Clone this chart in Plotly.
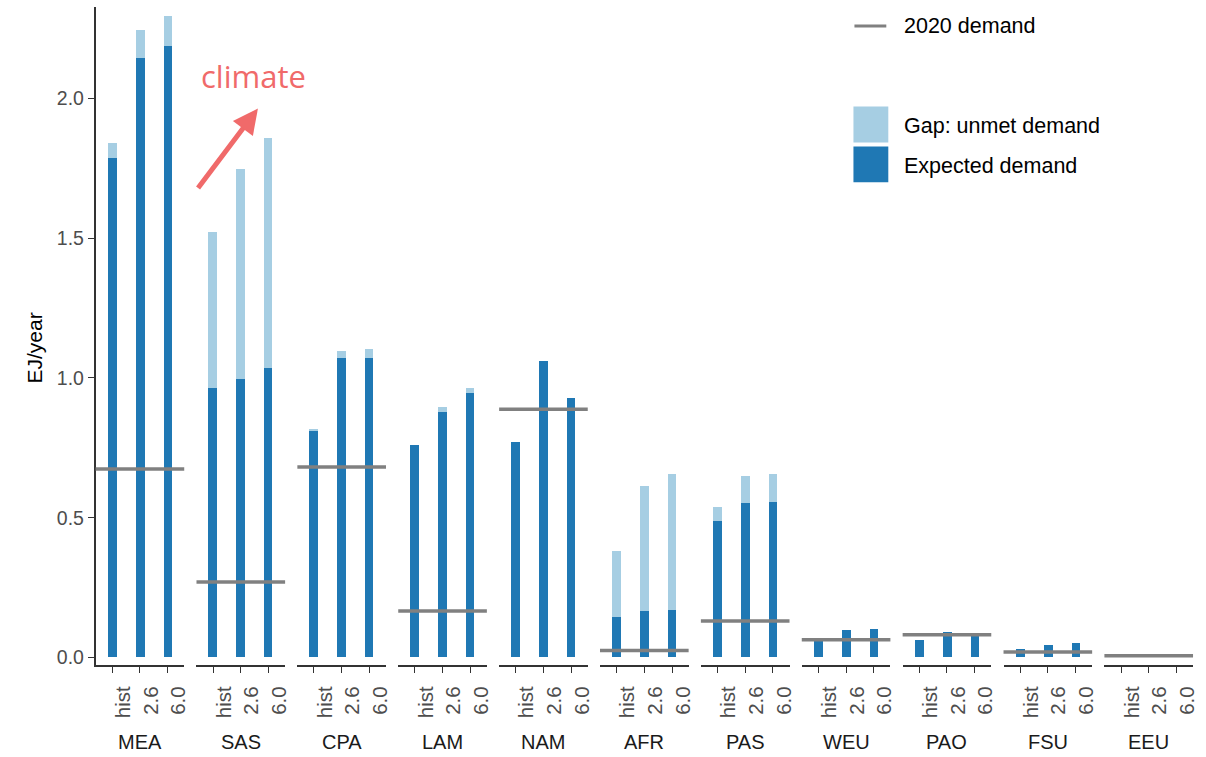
import plotly.graph_objects as go

# Regions (facets) and scenarios (bars within each facet)
regions = ["MEA", "SAS", "CPA", "LAM", "NAM", "AFR", "PAS", "WEU", "PAO", "FSU", "EEU"]
scenarios = ["hist", "2.6", "6.0"]

# Expected demand per region, one value per scenario (EJ/year)
expected = {
    "MEA": [1.786, 2.147, 2.190],
    "SAS": [0.966, 0.998, 1.037],
    "CPA": [0.809, 1.070, 1.070],
    "LAM": [0.759, 0.877, 0.948],
    "NAM": [0.770, 1.062, 0.930],
    "AFR": [0.146, 0.166, 0.171],
    "PAS": [0.490, 0.553, 0.557],
    "WEU": [0.060, 0.099, 0.101],
    "PAO": [0.062, 0.092, 0.076],
    "FSU": [0.031, 0.046, 0.051],
    "EEU": [0.0, 0.0, 0.0],
}

# Unmet demand stacked on top of the expected demand (EJ/year)
gap = {
    "MEA": [0.056, 0.098, 0.106],
    "SAS": [0.557, 0.751, 0.823],
    "CPA": [0.009, 0.028, 0.035],
    "LAM": [0.0, 0.018, 0.018],
    "NAM": [0.0, 0.0, 0.0],
    "AFR": [0.234, 0.446, 0.485],
    "PAS": [0.048, 0.096, 0.099],
    "WEU": [0.0, 0.0, 0.0],
    "PAO": [0.0, 0.0, 0.0],
    "FSU": [0.0, 0.0, 0.0],
    "EEU": [0.0, 0.0, 0.0],
}

# Demand in 2020 per region (EJ/year)
demand_2020 = [0.674, 0.270, 0.681, 0.166, 0.888, 0.025, 0.130, 0.063, 0.081, 0.019, 0.006]

y_ticks = [0.0, 0.5, 1.0, 1.5, 2.0]

W, H = 1206, 757
DARK = "#1F78B4"
LIGHT = "#A6CEE3"
GREY = "#808080"
RED = "#F06A6A"
FONT = "Liberation Sans, Arial, sans-serif"

fig = go.Figure()

panel_w = 89.0
step = 101.3
left0 = 96.0
y_bottom_px, y_top_px = 668.0, 7.0

layout = dict(
    width=W, height=H,
    margin=dict(l=0, r=0, t=0, b=0),
    paper_bgcolor="white", plot_bgcolor="white",
    barmode="stack", bargap=0,
    showlegend=False,
    font=dict(family=FONT, size=20, color="#4D4D4D"),
)

shapes = []
annotations = []

for i, reg in enumerate(regions):
    ax_name = "xaxis" if i == 0 else f"xaxis{i + 1}"
    xref = "x" if i == 0 else f"x{i + 1}"
    x0 = (left0 + i * step) / W
    x1 = (left0 + i * step + panel_w) / W
    layout[ax_name] = dict(
        domain=[x0, x1], anchor="y",
        type="category", categoryorder="array", categoryarray=scenarios,
        range=[-0.6, 2.6],
        showline=True, linecolor="#333333", linewidth=1.5,
        ticks="outside", ticklen=6, tickwidth=1.2, tickcolor="#333333",
        tickangle=-90, ticklabelshift=11, ticklabelstandoff=5,
        tickfont=dict(family=FONT, size=20.5, color="#4D4D4D"),
        showgrid=False, zeroline=False, fixedrange=True,
    )
    fig.add_trace(go.Bar(
        x=scenarios, y=expected[reg], xaxis=xref, yaxis="y",
        width=0.32, marker=dict(color=DARK, line=dict(width=0)),
        name="Expected demand",
    ))
    fig.add_trace(go.Bar(
        x=scenarios, y=gap[reg], xaxis=xref, yaxis="y",
        width=0.32, marker=dict(color=LIGHT, line=dict(width=0)),
        name="Gap: unmet demand",
    ))
    # 2020 demand drawn across the whole facet
    shapes.append(dict(
        type="line", xref=f"{xref} domain", yref="y",
        x0=0, x1=1, y0=demand_2020[i], y1=demand_2020[i],
        line=dict(color=GREY, width=3.5), layer="above",
    ))
    # facet label underneath
    annotations.append(dict(
        x=(x0 + x1) / 2, y=1 - 745 / H, xref="paper", yref="paper",
        text=reg, showarrow=False, xanchor="center", yanchor="middle",
        font=dict(family=FONT, size=20, color="#1A1A1A"),
    ))

layout["yaxis"] = dict(
    domain=[1 - y_bottom_px / H, 1 - y_top_px / H], anchor="x",
    range=[-(y_bottom_px - 660) / 280.5, (660 - y_top_px) / 280.5],
    tickvals=y_ticks, ticktext=[f"{v:.1f}" for v in y_ticks],
    showline=True, linecolor="#333333", linewidth=1.5,
    ticks="outside", ticklen=6, tickwidth=1.2, tickcolor="#333333",
    tickfont=dict(family=FONT, size=19.5, color="#4D4D4D"),
    showgrid=False, zeroline=False, fixedrange=True,
)

# y-axis title
annotations.append(dict(x=35 / W, y=1 - 349 / H, xref="paper", yref="paper",
                        text="EJ/year", textangle=-90, showarrow=False,
                        xanchor="center", yanchor="middle",
                        font=dict(family=FONT, size=21, color="#000000")))

# Key: 2020 demand line
shapes.append(dict(type="line", xref="paper", yref="paper",
                   x0=858 / W, x1=890 / W, y0=1 - 26 / H, y1=1 - 26 / H,
                   line=dict(color=GREY, width=3)))
annotations.append(dict(x=906 / W, y=1 - 26 / H, xref="paper", yref="paper",
                        text="2020 demand", showarrow=False, xanchor="left", yanchor="middle",
                        font=dict(family=FONT, size=21.5, color="#000000")))
# Key: fill colours
for label, color, yc in [("Gap: unmet demand", LIGHT, 125), ("Expected demand", DARK, 165)]:
    shapes.append(dict(type="rect", xref="paper", yref="paper",
                       x0=857 / W, x1=892 / W, y0=1 - (yc + 18) / H, y1=1 - (yc - 18) / H,
                       fillcolor=color, line=dict(width=0)))
    annotations.append(dict(x=906 / W, y=1 - (yc + 2) / H, xref="paper", yref="paper",
                            text=label, showarrow=False, xanchor="left", yanchor="middle",
                            font=dict(family=FONT, size=21.5, color="#000000")))

# "climate" note with arrow
annotations.append(dict(x=255 / W, y=1 - 76 / H, xref="paper", yref="paper",
                        text="climate", showarrow=False, xanchor="center", yanchor="middle",
                        font=dict(family="Open Sans, sans-serif", size=31, color=RED)))
annotations.append(dict(x=259 / W, y=1 - 109 / H, xref="paper", yref="paper",
                        text="", showarrow=True, ax=-61, ay=81,
                        arrowhead=2, arrowsize=1.0, arrowwidth=5, arrowcolor=RED, standoff=0))

layout["shapes"] = shapes
layout["annotations"] = annotations
fig.update_layout(**layout)

fig.write_html("out.html")
